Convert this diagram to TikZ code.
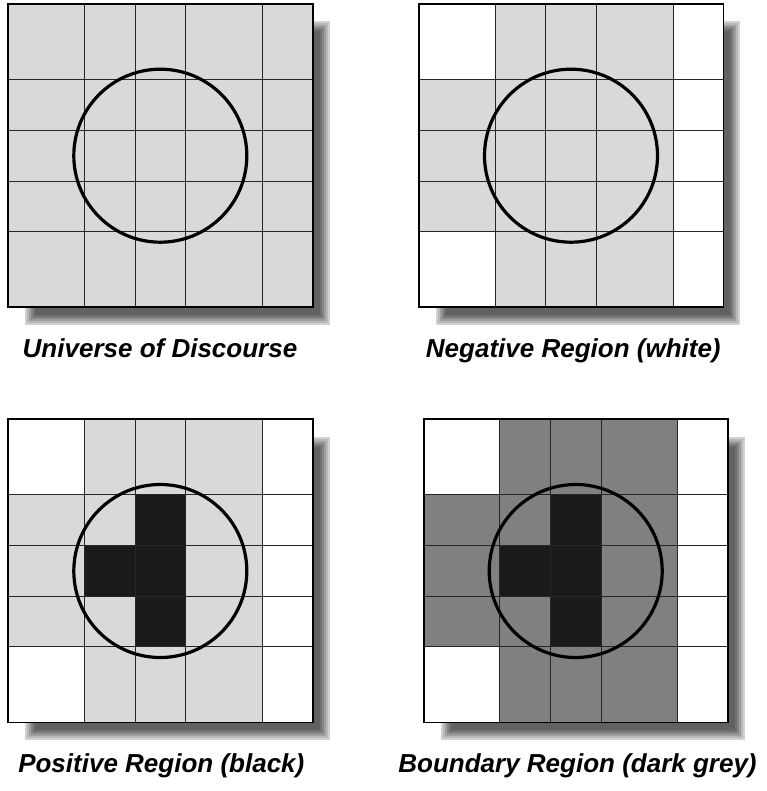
\documentclass[tikz,border=0pt]{standalone}
\usepackage{fontspec}
\setmainfont{Liberation Sans}
\definecolor{lightcell}{HTML}{D9D9D9}
\definecolor{darkcell}{HTML}{808080}
\definecolor{blackcell}{HTML}{1A1A1A}
\tikzset{
  gridline/.style={draw=black!85,line width=0.8pt},
  frameline/.style={draw=black,line width=1.8pt},
  ringline/.style={draw=black,line width=3.2pt},
  caption/.style={font=\fontsize{26}{30}\selectfont\bfseries\itshape,anchor=base,inner sep=0pt}
}
% panel: #1 x, #2 y, #3 fills (local coordinates, px)
\newcommand\rsPanel[3]{%
\begin{scope}[shift={(#1,#2)}]
  \foreach \i/\c in {0/18,1/28,2/38,3/48,4/56,5/62}{
    \fill[black!\c] ({17+2*\i},{17.5+2*\i}) rectangle ({17+304.4-2*\i},{17.5+303.5-2*\i});
  }
  #3
  \foreach \xx in {76,126.7,177.4,254}{\draw[gridline] (\xx,0) -- (\xx,303.5);}
  \foreach \yy in {75.8,126.5,177.5,227.8}{\draw[gridline] (0,\yy) -- (304.4,\yy);}
  \draw[frameline] (0,0) rectangle (304.4,303.5);
  \draw[ringline] (152,152) circle (86.5pt);
\end{scope}}
\begin{document}
\begin{tikzpicture}[x=1pt,y=-1pt]
\useasboundingbox (0,0) rectangle (766,791);
% Universe of discourse
\rsPanel{8.3}{3.7}{\fill[lightcell] (0,0) rectangle (304.4,303.5);}
% Negative region
\rsPanel{419}{3.7}{%
  \fill[white] (0,0) rectangle (304.4,303.5);
  \fill[lightcell] (76,0) rectangle (254,303.5);
  \fill[lightcell] (0,75.8) rectangle (76,227.8);}
% Positive region
\rsPanel{8.3}{419}{%
  \fill[white] (0,0) rectangle (304.4,303.5);
  \fill[lightcell] (76,0) rectangle (254,303.5);
  \fill[lightcell] (0,75.8) rectangle (76,227.8);
  \fill[blackcell] (126.7,75.8) rectangle (177.4,227.8);
  \fill[blackcell] (76,126.5) rectangle (126.7,177.5);}
% Boundary region
\rsPanel{423.7}{419}{%
  \fill[white] (0,0) rectangle (304.4,303.5);
  \fill[darkcell] (76,0) rectangle (254,303.5);
  \fill[darkcell] (0,75.8) rectangle (76,227.8);
  \fill[blackcell] (126.7,75.8) rectangle (177.4,227.8);
  \fill[blackcell] (76,126.5) rectangle (126.7,177.5);}
\node[caption] (c1) at (160,357.7) {Universe of Discourse};
\node[caption] (c2) at (573.3,357.7) {Negative Region (white)};
\node[caption] (c3) at (161.3,772.3) {Positive Region (black)};
\node[caption] (c4) at (577.5,772.3) {Boundary Region (dark grey)};
\end{tikzpicture}
\end{document}
